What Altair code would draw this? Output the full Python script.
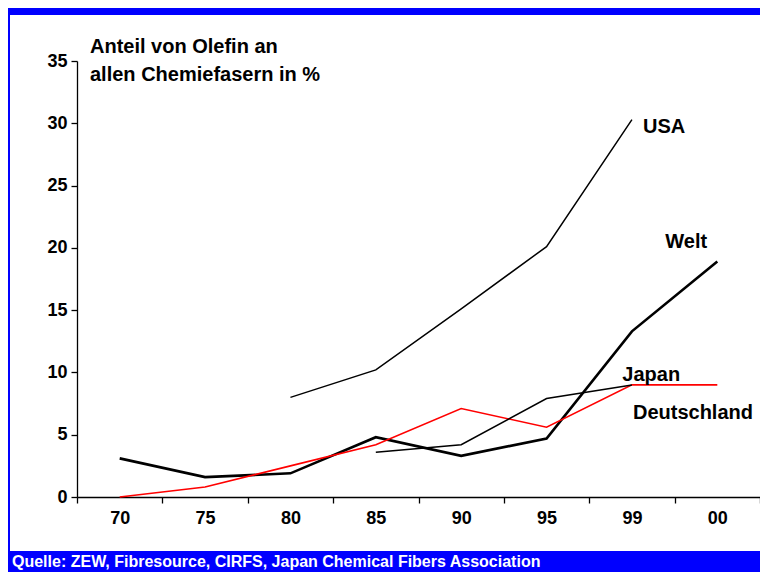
import altair as alt
import pandas as pd

years = ["70", "75", "80", "85", "90", "95", "99", "00"]
usa = [None, None, 8.0, 10.2, 15.1, 20.1, 30.3, None]
welt = [3.1, 1.6, 1.9, 4.8, 3.3, 4.7, 13.3, 18.9]
japan = [0.0, 0.8, 2.5, 4.2, 7.1, 5.6, 9.0, 9.0]
deutschland = [None, None, None, 3.6, 4.2, 7.9, 9.0, None]

series_names = ["USA", "Welt", "Japan", "Deutschland"]
series_values = [usa, welt, japan, deutschland]
y_ticks = [0, 5, 10, 15, 20, 25, 30, 35]
y_title = ["Anteil von Olefin an", "allen Chemiefasern in %"]
source_text = "Quelle: ZEW, Fibresource, CIRFS, Japan Chemical Fibers Association"

rows = []
for name, vals in zip(series_names, series_values):
    for i, (yr, v) in enumerate(zip(years, vals)):
        if v is not None:
            rows.append({"Serie": name, "Jahr": yr, "idx": i, "Wert": v})
df = pd.DataFrame(rows)

FONT = "Liberation Sans"
W, H = 683, 436
PL, PT, PR, PB = 69, 53, 0, 75
BLUE = "#0000ff"

axis_common = dict(
    title=None, labelFontSize=18, labelFont=FONT, labelFontWeight="bold",
    labelColor="black", domainColor="black", tickColor="black",
    domainWidth=1.3, tickWidth=1.3, grid=False, tickSize=6,
)

x_enc = alt.X(
    "Jahr:N",
    sort=years,
    scale=alt.Scale(type="band", domain=years, paddingInner=0, paddingOuter=0),
    axis=alt.Axis(labelAngle=0, tickBand="extent", labelPadding=6, **axis_common),
)
y_enc = alt.Y(
    "Wert:Q",
    scale=alt.Scale(domain=[0, 35], nice=False, zero=True),
    axis=alt.Axis(values=y_ticks, labelPadding=4, **axis_common),
)

base = alt.Chart(df)

styles = {"USA": ("black", 1.5), "Welt": ("black", 2.6), "Japan": ("red", 1.6), "Deutschland": ("black", 1.5)}

lines = []
for name in series_names:
    col, sw = styles[name]
    lines.append(
        base.transform_filter(alt.datum.Serie == name)
        .mark_line(color=col, strokeWidth=sw, strokeJoin="miter")
        .encode(x=x_enc, y=y_enc, order=alt.Order("idx:Q"))
    )

def label(name, year, dx, dy):
    return base.transform_filter(
        (alt.datum.Serie == name) & (alt.datum.Jahr == year)
    ).mark_text(
        text=name, align="left", baseline="alphabetic", dx=dx, dy=dy,
        font=FONT, fontWeight="bold", fontSize=20, color="black",
    ).encode(x=alt.X("Jahr:N", sort=years), y="Wert:Q")

labels = [
    label("USA", "99", 11, 13),
    label("Welt", "00", -52, -14),
    label("Japan", "00", -95, -4),
    label("Deutschland", "99", 1, 34),
]

one = pd.DataFrame({"k": [0]})

title_txt = alt.Chart(one).mark_text(
    text=y_title, align="left", baseline="alphabetic", lineHeight=28,
    font=FONT, fontWeight="bold", fontSize=20, color="black",
).encode(x=alt.value(13), y=alt.value(-8))

top_band = alt.Chart(one).mark_rect(color=BLUE).encode(
    x=alt.value(-PL), x2=alt.value(W + PR), y=alt.value(-PT), y2=alt.value(-PT + 7)
)
bottom_band = alt.Chart(one).mark_rect(color=BLUE).encode(
    x=alt.value(-PL), x2=alt.value(W + PR), y=alt.value(H + PB - 21), y2=alt.value(H + PB)
)
left_border = alt.Chart(one).mark_rect(color=BLUE).encode(
    x=alt.value(-PL), x2=alt.value(-PL + 2), y=alt.value(-PT), y2=alt.value(H + PB)
)
source = alt.Chart(one).mark_text(
    text=source_text, align="left", baseline="alphabetic",
    font=FONT, fontWeight="bold", fontSize=16, color="white",
).encode(x=alt.value(-65), y=alt.value(H + PB - 5))

chart = alt.layer(
    top_band, bottom_band, left_border, *lines, *labels, title_txt, source
).properties(
    width=W, height=H,
    autosize=alt.AutoSizeParams(type="none"),
    padding={"left": PL, "top": PT, "right": PR, "bottom": PB},
    background="white",
).configure_view(stroke=None)

chart.save("out.html", embed_options={"renderer": "svg", "actions": False})
